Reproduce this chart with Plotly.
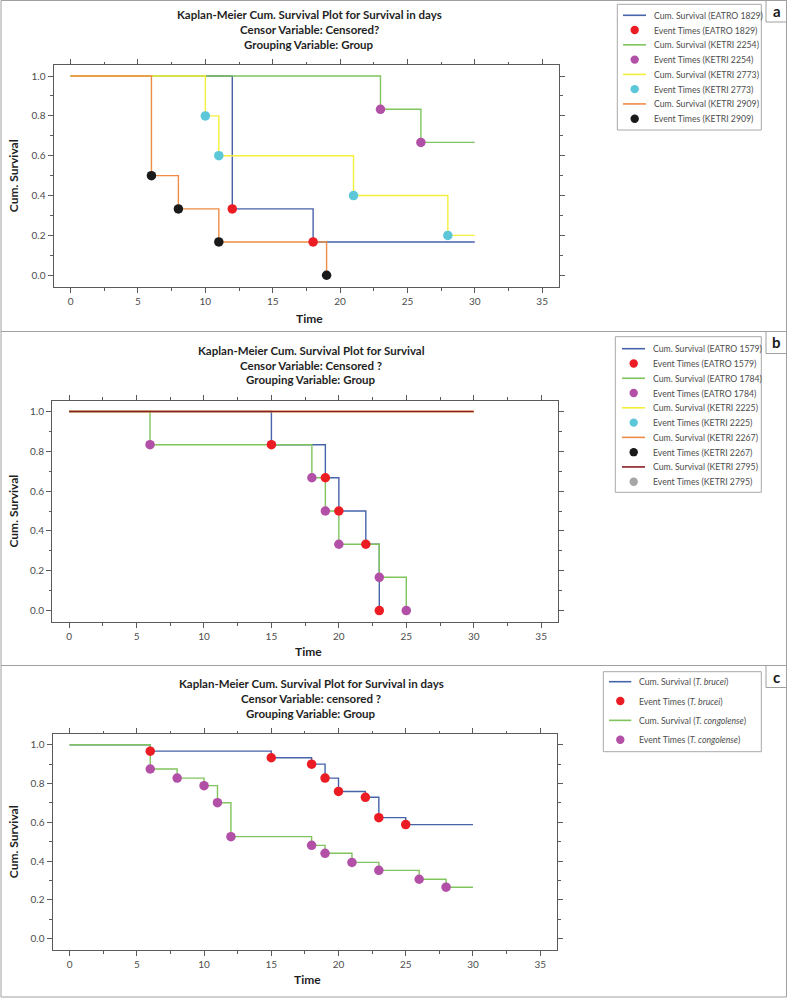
import plotly.graph_objects as go

W, H = 788, 998
FONT = "Lato"


def px(x):
    return x / W


def py(y):
    return 1 - y / H


# ---------------- DATA ----------------
# Panel a
a_eatro1829_t = [12, 18]
a_eatro1829_s = [0.333, 0.167]
a_ketri2254_t = [23, 26]
a_ketri2254_s = [0.833, 0.667]
a_ketri2773_t = [10, 11, 21, 28]
a_ketri2773_s = [0.8, 0.6, 0.4, 0.2]
a_ketri2909_t = [6, 8, 11, 19]
a_ketri2909_s = [0.5, 0.333, 0.167, 0.0]

# Panel b
b_eatro1579_t = [15, 19, 20, 22, 23]
b_eatro1579_s = [0.833, 0.667, 0.5, 0.333, 0.0]
b_eatro1784_t = [6, 18, 19, 20, 23, 25]
b_eatro1784_s = [0.833, 0.667, 0.5, 0.333, 0.167, 0.0]
b_ketri2225_t, b_ketri2225_s = [], []
b_ketri2267_t, b_ketri2267_s = [], []
b_ketri2795_t, b_ketri2795_s = [], []

# Panel c
c_brucei_t = [6, 15, 18, 19, 20, 22, 23, 25]
c_brucei_s = [0.967, 0.933, 0.9, 0.828, 0.759, 0.729, 0.624, 0.588]
c_congo_t = [6, 8, 10, 11, 12, 18, 19, 21, 23, 26, 28]
c_congo_s = [0.875, 0.828, 0.789, 0.701, 0.526, 0.481, 0.44, 0.393, 0.352, 0.306, 0.265]

follow_up_end = 30

x_ticks = [0, 5, 10, 15, 20, 25, 30, 35]
y_ticks = [0.0, 0.2, 0.4, 0.6, 0.8, 1.0]

titles = {
    "a": ["Kaplan-Meier Cum. Survival Plot for Survival in days",
          "Censor Variable: Censored?", "Grouping Variable: Group"],
    "b": ["Kaplan-Meier Cum. Survival Plot for Survival",
          "Censor Variable: Censored ?", "Grouping Variable: Group"],
    "c": ["Kaplan-Meier Cum. Survival Plot for Survival in days",
          "Censor Variable: censored ?", "Grouping Variable: Group"],
}

# colours
BLUE = "#4763aa"
RED = "#ec1c24"
GREEN = "#80c45e"
PURPLE = "#b24fa6"
YELLOW = "#f5ef3c"
CYAN = "#5cc7d9"
ORANGE = "#ee8c45"
BLACK = "#1a1a1a"
DARKRED = "#8a1f26"
GRAY = "#a6a6a6"


def step_xy(times, surv, end):
    xs = [0] + list(times)
    ys = [1.0] + list(surv)
    if end is not None:
        xs.append(end)
        ys.append(ys[-1])
    return xs, ys


# series definitions: (panel, name, times, surv, end, line colour, marker colour)
series = [
    ("a", "EATRO 1829", a_eatro1829_t, a_eatro1829_s, follow_up_end, BLUE, RED),
    ("a", "KETRI 2254", a_ketri2254_t, a_ketri2254_s, follow_up_end, GREEN, PURPLE),
    ("a", "KETRI 2773", a_ketri2773_t, a_ketri2773_s, follow_up_end, YELLOW, CYAN),
    ("a", "KETRI 2909", a_ketri2909_t, a_ketri2909_s, None, ORANGE, BLACK),
    ("b", "EATRO 1579", b_eatro1579_t, b_eatro1579_s, None, BLUE, RED),
    ("b", "EATRO 1784", b_eatro1784_t, b_eatro1784_s, None, GREEN, PURPLE),
    ("b", "KETRI 2225", b_ketri2225_t, b_ketri2225_s, follow_up_end, YELLOW, CYAN),
    ("b", "KETRI 2267", b_ketri2267_t, b_ketri2267_s, follow_up_end, ORANGE, BLACK),
    ("b", "KETRI 2795", b_ketri2795_t, b_ketri2795_s, follow_up_end, DARKRED, GRAY),
    ("c", "<i>T. brucei</i>", c_brucei_t, c_brucei_s, follow_up_end, BLUE, RED),
    ("c", "<i>T. congolense</i>", c_congo_t, c_congo_s, follow_up_end, GREEN, PURPLE),
]

axis_of = {"a": ("x", "y"), "b": ("x2", "y2"), "c": ("x3", "y3")}

fig = go.Figure()

# lines first
for panel, name, t, s, end, lc, mc in series:
    xa, ya = axis_of[panel]
    xs, ys = step_xy(t, s, end)
    fig.add_trace(go.Scatter(
        x=xs, y=ys, mode="lines", line=dict(color=lc, width=1.4, shape="hv"),
        name=f"Cum. Survival ({name})", xaxis=xa, yaxis=ya, showlegend=False))

# event markers on top
for panel, name, t, s, end, lc, mc in series:
    xa, ya = axis_of[panel]
    fig.add_trace(go.Scatter(
        x=list(t) if t else [None], y=list(s) if s else [None], mode="markers",
        marker=dict(color=mc, size=9.5, line=dict(width=0)),
        name=f"Event Times ({name})", xaxis=xa, yaxis=ya, showlegend=False))

# ---------------- LAYOUT ----------------
panels = {
    # plot box in pixels: left, right, top, bottom
    "a": dict(box=(53.5, 559, 65.3, 287), title_x=309, title_y=[14.7, 29.3, 44],
              time_y=318.7, label_y=(0.5, 22),
              leg_box=(617.3, 761.3, 4.3, 130), leg_first=15.3, leg_step=14.77,
              leg_line=(623, 646), leg_mark=634.7, leg_text=651.7),
    "b": dict(box=(52, 558, 400.7, 622.3), title_x=311, title_y=[350.7, 365, 380],
              time_y=651.7, label_y=(331.5, 353.5),
              leg_box=(615.3, 761.3, 336.7, 492.3), leg_first=348.7, leg_step=14.78,
              leg_line=(622, 645), leg_mark=633.7, leg_text=650.7),
    "c": dict(box=(52.5, 557, 734.3, 950), title_x=311, title_y=[683, 698.3, 713.7],
              time_y=979, label_y=(665.5, 687.5),
              leg_box=(603.3, 761.3, 671.7, 751.7), leg_first=681.7, leg_step=19.33,
              leg_line=(609, 631.3), leg_mark=620.3, leg_text=636.7),
}

AX = "#5a5a5a"
common = dict(showline=True, linecolor=AX, linewidth=1, mirror="ticks",
              ticks="outside", ticklen=5, tickcolor=AX, tickwidth=1,
              showgrid=False, zeroline=False,
              tickfont=dict(family=FONT, size=10, color="#4d4d4d"))

annotations = []
shapes = []
layout = {}
for i, key in enumerate(["a", "b", "c"]):
    p = panels[key]
    l, r, t, b = p["box"]
    sfx = "" if i == 0 else str(i + 1)
    layout["xaxis" + sfx] = dict(
        common, domain=[px(l), px(r)], range=[-1.27, 36.25], tickvals=x_ticks,
        anchor="y" + sfx,
        minor=dict(dtick=2.5, tick0=0, ticks="outside", ticklen=2.5, tickcolor=AX))
    layout["yaxis" + sfx] = dict(
        common, domain=[py(b), py(t)], range=[-0.059, 1.054], tickvals=y_ticks,
        tickformat=".1f", anchor="x" + sfx,
        minor=dict(dtick=0.1, tick0=0, ticks="outside", ticklen=2.5, tickcolor=AX))
    for line, yy in zip(titles[key], p["title_y"]):
        annotations.append(dict(text=f"<b>{line}</b>", x=px(p["title_x"]), y=py(yy),
                                xref="paper", yref="paper", showarrow=False,
                                xanchor="center", yanchor="middle",
                                font=dict(family=FONT, size=11.5, color="#1f1f1f")))
    annotations.append(dict(text="<b>Time</b>", x=px((l + r) / 2 + 3), y=py(p["time_y"]),
                            xref="paper", yref="paper", showarrow=False,
                            xanchor="center", yanchor="middle",
                            font=dict(family=FONT, size=12, color="#1f1f1f")))
    annotations.append(dict(text="<b>Cum. Survival</b>", x=px(13), y=py((t + b) / 2),
                            xref="paper", yref="paper", showarrow=False, textangle=-90,
                            xanchor="center", yanchor="middle",
                            font=dict(family=FONT, size=12, color="#1f1f1f")))
    # panel letter box
    y0, y1 = p["label_y"]
    shapes.append(dict(type="rect", xref="paper", yref="paper", x0=px(766), x1=px(786.5),
                       y0=py(y1), y1=py(y0), line=dict(color="#a0a0a0", width=1),
                       fillcolor="white"))
    annotations.append(dict(text=f"<b>{key}</b>", x=px(776.5), y=py((y0 + y1) / 2),
                            xref="paper", yref="paper", showarrow=False,
                            xanchor="center", yanchor="middle",
                            font=dict(family=FONT, size=15, color="#1a1a1a")))
    # legend box
    bl, br, bt, bb = p["leg_box"]
    shapes.append(dict(type="rect", xref="paper", yref="paper", x0=px(bl), x1=px(br),
                       y0=py(bb), y1=py(bt), line=dict(color="#a8a8a8", width=1),
                       fillcolor="white", layer="above"))
    entries = []
    for panel, name, tt, ss, end, lc, mc in series:
        if panel == key:
            entries.append(("line", f"Cum. Survival ({name})", lc))
            entries.append(("marker", f"Event Times ({name})", mc))
    for k, (kind, label, col) in enumerate(entries):
        cy = p["leg_first"] + k * p["leg_step"]
        if kind == "line":
            x0, x1 = p["leg_line"]
            shapes.append(dict(type="line", xref="paper", yref="paper",
                               x0=px(x0), x1=px(x1), y0=py(cy), y1=py(cy),
                               line=dict(color=col, width=1.6), layer="above"))
        else:
            shapes.append(dict(type="circle", xref="paper", yref="paper",
                               xsizemode="pixel", ysizemode="pixel",
                               xanchor=px(p["leg_mark"]), yanchor=py(cy),
                               x0=-4.2, x1=4.2, y0=-4.2, y1=4.2,
                               fillcolor=col, line=dict(width=0), layer="above"))
        annotations.append(dict(text=label, x=px(p["leg_text"]), y=py(cy),
                                xref="paper", yref="paper", showarrow=False,
                                xanchor="left", yanchor="middle",
                                font=dict(family=FONT, size=8.7, color="#4d4d4d")))

# outer frame and separators
shapes.append(dict(type="rect", xref="paper", yref="paper", x0=px(1), x1=px(786.5),
                   y0=py(997), y1=py(0.5), line=dict(color="#a0a0a0", width=1)))
for ys in (331.5, 665.5):
    shapes.append(dict(type="line", xref="paper", yref="paper", x0=px(1), x1=px(786.5),
                       y0=py(ys), y1=py(ys), line=dict(color="#a0a0a0", width=1)))

fig.update_layout(
    width=W, height=H, margin=dict(l=0, r=0, t=0, b=0),
    paper_bgcolor="white", plot_bgcolor="white",
    showlegend=False, annotations=annotations, shapes=shapes, **layout)

fig.write_html("out.html", config={"displayModeBar": False},
               post_script="document.body.style.margin='0';document.body.style.overflow='hidden';")
